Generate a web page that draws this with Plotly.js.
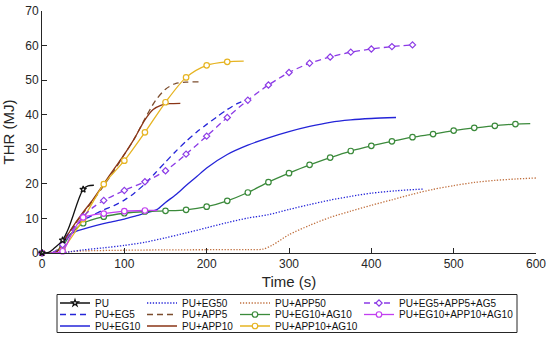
<!DOCTYPE html>
<html>
<head>
<meta charset="utf-8">
<script src="https://cdn.plot.ly/plotly-3.0.1.min.js"></script>
<style>html,body{margin:0;padding:0;background:#fff;}#chart{width:550px;height:342px;}</style>
</head>
<body>
<div id="chart"></div>
<script>
// ---- data (time in s, THR in MJ) ----
const xTicks = [0, 100, 200, 300, 400, 500, 600];
const yTicks = [0, 10, 20, 30, 40, 50, 60, 70];

const puT   = [0, 8, 14, 25, 32, 38, 44, 50, 56, 63];
const puY   = [0, 0.2, 1.2, 3.7, 7, 11, 15.2, 18.4, 19.4, 19.6];

const eg5T  = [0, 12, 20, 25, 30, 35, 42, 50, 62, 75, 88, 100, 112, 125, 137, 150, 162, 175, 188, 200, 212, 225, 237, 247];
const eg5Y  = [0, 0, 1, 3, 5, 6.7, 8.2, 9.5, 11, 12.5, 13.8, 15.3, 17.3, 20, 23, 26.3, 29.3, 32.3, 35, 37.2, 39.3, 41.5, 43.2, 44.2];

const eg10T = [0, 15, 20, 25, 30, 35, 42, 50, 65, 80, 100, 115, 130, 140, 150, 162, 175, 188, 200, 225, 250, 275, 300, 325, 350, 375, 400, 430];
const eg10Y = [0, 0, 0.8, 2.5, 4.3, 5.5, 6.3, 6.9, 7.9, 8.8, 9.8, 10.8, 11.8, 12.6, 14.6, 16.8, 19.5, 22.1, 24.6, 28.5, 31.2, 33.3, 35.1, 36.6, 37.8, 38.5, 38.9, 39.2];

const eg50T = [0, 25, 35, 50, 75, 100, 125, 150, 175, 200, 225, 250, 275, 300, 325, 350, 375, 400, 430, 463];
const eg50Y = [0, 0, 0.4, 0.9, 1.5, 2.2, 3.1, 4.4, 5.8, 7.3, 8.8, 10.1, 11.1, 12.6, 14.0, 15.3, 16.4, 17.3, 18.0, 18.5];

const app5T = [0, 15, 20, 25, 30, 40, 50, 62, 75, 88, 100, 112, 125, 137, 150, 162, 175, 192];
const app5Y = [0, 0, 0.8, 2.8, 4.8, 8.3, 11.5, 15.2, 19.5, 24, 28.5, 33, 38.8, 43.8, 47.4, 49, 49.4, 49.5];

const app10T = [0, 15, 20, 25, 30, 40, 50, 62, 75, 88, 100, 112, 125, 135, 145, 155, 168];
const app10Y = [0, 0, 0.8, 2.8, 4.8, 8.5, 11.8, 15.5, 20, 24.5, 28.5, 33, 38.5, 41.5, 42.8, 43.2, 43.3];

const app50T = [0, 20, 30, 50, 100, 150, 200, 250, 268, 280, 300, 325, 350, 375, 400, 425, 450, 475, 500, 525, 550, 575, 600];
const app50Y = [0, 0, 0.3, 0.6, 0.8, 0.9, 0.95, 1.0, 1.1, 2.3, 5.3, 8.0, 10.3, 12.1, 13.8, 15.4, 17.0, 18.4, 19.5, 20.4, 21.0, 21.4, 21.7];

const egAgT = [0, 12, 25, 35, 50, 75, 100, 125, 150, 175, 200, 225, 250, 275, 300, 325, 350, 375, 400, 425, 450, 475, 500, 525, 550, 575, 593];
const egAgY = [0, 0, 2.0, 5.5, 8.6, 10.5, 11.5, 12.0, 12.2, 12.5, 13.4, 15.1, 17.5, 20.5, 23.1, 25.5, 27.6, 29.5, 31.0, 32.3, 33.5, 34.4, 35.4, 36.2, 36.8, 37.3, 37.4];

const appAgT = [0, 20, 25, 30, 40, 50, 62, 75, 100, 125, 150, 175, 200, 225, 245];
const appAgY = [0, 0, 0.8, 2.5, 6, 9.8, 14.8, 19.9, 26.7, 34.9, 43.6, 50.8, 54.3, 55.3, 55.5];

const mix5T = [0, 12, 25, 35, 50, 62, 75, 100, 125, 150, 175, 200, 225, 250, 275, 300, 325, 350, 375, 400, 425, 450];
const mix5Y = [0, 0, 2.4, 6, 10.5, 13.2, 15.2, 18.1, 20.6, 23.8, 28.6, 33.8, 39.2, 44.2, 48.6, 52.2, 54.9, 56.7, 58.1, 59.0, 59.7, 60.2];

const mix10T = [0, 15, 25, 35, 42, 50, 62, 75, 100, 125, 140];
const mix10Y = [0, 0, 0.5, 5, 8, 10.3, 11, 11.4, 12.1, 12.3, 12.3];

const names = ['PU', 'PU+EG5', 'PU+EG10', 'PU+EG50', 'PU+APP5', 'PU+APP10', 'PU+APP50',
  'PU+EG10+AG10', 'PU+APP10+AG10', 'PU+EG5+APP5+AG5', 'PU+EG10+APP10+AG10'];

// ---- styling ----
const C = {
  black: '#111111', blue: '#2424d8', app5: '#7c4d2e', app10: '#8a3516', app50: '#c0703f',
  green: '#3b8a3b', yellow: '#e6b422', purple: '#8c3be6', magenta: '#c23ff0'
};
const LW = 1.3;
const DASH = '6px,4px';
const DOT = '1.3px,1.6px';

function markerFor(xs, color, symbol, size) {
  const on = xs.map(v => v % 25 === 0);
  return {
    symbol: symbol, size: size,
    color: on.map(b => b ? '#ffffff' : 'rgba(0,0,0,0)'),
    line: { width: 1.2, color: on.map(b => b ? color : 'rgba(0,0,0,0)') }
  };
}

// legend grid: [row, col] for each series name
const legendPos = {
  'PU': [0, 0], 'PU+EG50': [0, 1], 'PU+APP50': [0, 2], 'PU+EG5+APP5+AG5': [0, 3],
  'PU+EG5': [1, 0], 'PU+APP5': [1, 1], 'PU+EG10+AG10': [1, 2], 'PU+EG10+APP10+AG10': [1, 3],
  'PU+EG10': [2, 0], 'PU+APP10': [2, 1], 'PU+APP10+AG10': [2, 2]
};

function tr(id, name, x, y, color, dash, marker) {
  const t = {
    type: 'scatter', x: x, y: y, name: name, legend: id,
    mode: marker ? 'lines+markers' : 'lines',
    line: { color: color, width: LW, dash: dash, shape: 'spline', smoothing: 0.8 },
    cliponaxis: false, hoverinfo: 'skip'
  };
  if (marker) t.marker = marker;
  return t;
}

const legIds = {};
names.forEach((n, i) => { legIds[n] = i === 0 ? 'legend' : 'legend' + (i + 1); });

const data = [
  tr(legIds['PU+APP50'], 'PU+APP50', app50T, app50Y, C.app50, DOT),
  tr(legIds['PU+EG50'], 'PU+EG50', eg50T, eg50Y, C.blue, DOT),
  tr(legIds['PU+EG10'], 'PU+EG10', eg10T, eg10Y, C.blue, 'solid'),
  tr(legIds['PU+EG5'], 'PU+EG5', eg5T, eg5Y, C.blue, DASH),
  tr(legIds['PU+EG10+AG10'], 'PU+EG10+AG10', egAgT, egAgY, C.green, 'solid', markerFor(egAgT, C.green, 'circle', 5.5)),
  tr(legIds['PU+APP5'], 'PU+APP5', app5T, app5Y, C.app5, DASH),
  tr(legIds['PU+APP10'], 'PU+APP10', app10T, app10Y, C.app10, 'solid'),
  tr(legIds['PU+APP10+AG10'], 'PU+APP10+AG10', appAgT, appAgY, C.yellow, 'solid', markerFor(appAgT, C.yellow, 'circle', 5.5)),
  tr(legIds['PU+EG5+APP5+AG5'], 'PU+EG5+APP5+AG5', mix5T, mix5Y, C.purple, DASH, markerFor(mix5T, C.purple, 'diamond', 4.8)),
  tr(legIds['PU+EG10+APP10+AG10'], 'PU+EG10+APP10+AG10', mix10T, mix10Y, C.magenta, 'solid', markerFor(mix10T, C.magenta, 'circle', 5.5)),
  tr(legIds['PU'], 'PU', puT, puY, C.black, 'solid', markerFor(puT, C.black, 'star', 5))
];

// ---- layout ----
const M = { l: 42, r: 14, t: 11, b: 89 };
const PW = 550 - M.l - M.r, PH = 342 - M.t - M.b;
const px2x = p => (p - M.l) / PW;
const py2y = p => (342 - M.b - p) / PH;

const colOrigin = [55, 142, 235, 359];
const rowY = [303, 314.5, 326];
const fontFam = 'Liberation Sans, Arial, Helvetica, sans-serif';
const ink = '#262626';

const layout = {
  width: 550, height: 342,
  margin: Object.assign({ autoexpand: false }, M),
  paper_bgcolor: '#fff', plot_bgcolor: '#fff',
  font: { family: fontFam, color: ink, size: 12 },
  xaxis: {
    range: [0, 600], tickvals: xTicks, ticktext: xTicks.map(String),
    ticks: 'inside', ticklen: 5, tickwidth: 1, tickcolor: ink,
    showline: true, linecolor: ink, linewidth: 1, showgrid: false, zeroline: false,
    tickfont: { size: 12, color: ink },
    title: { text: 'Time (s)', font: { size: 15, color: ink }, standoff: 6 },
    automargin: false
  },
  yaxis: {
    range: [0, 70], tickvals: yTicks, ticktext: yTicks.map(String),
    ticks: 'inside', ticklen: 5, tickwidth: 1, tickcolor: ink,
    showline: true, linecolor: ink, linewidth: 1, showgrid: false, zeroline: false,
    tickfont: { size: 12, color: ink },
    title: { text: 'THR (MJ)', font: { size: 15, color: ink }, standoff: 6 },
    automargin: false
  },
  shapes: [{
    type: 'rect', xref: 'paper', yref: 'paper',
    x0: px2x(57), x1: px2x(517), y0: py2y(294.5), y1: py2y(332.5),
    line: { color: ink, width: 1 }, fillcolor: 'rgba(0,0,0,0)'
  }],
  showlegend: true
};

names.forEach(n => {
  const [r, c] = legendPos[n];
  layout[legIds[n]] = {
    x: px2x(colOrigin[c]), y: py2y(rowY[r]), xref: 'paper', yref: 'paper',
    xanchor: 'left', yanchor: 'middle', orientation: 'v',
    bgcolor: 'rgba(0,0,0,0)', borderwidth: 0,
    font: { size: 10, color: '#111', family: fontFam }
  };
});

Plotly.newPlot('chart', data, layout, { staticPlot: true, displayModeBar: false });
</script>
</body>
</html>
